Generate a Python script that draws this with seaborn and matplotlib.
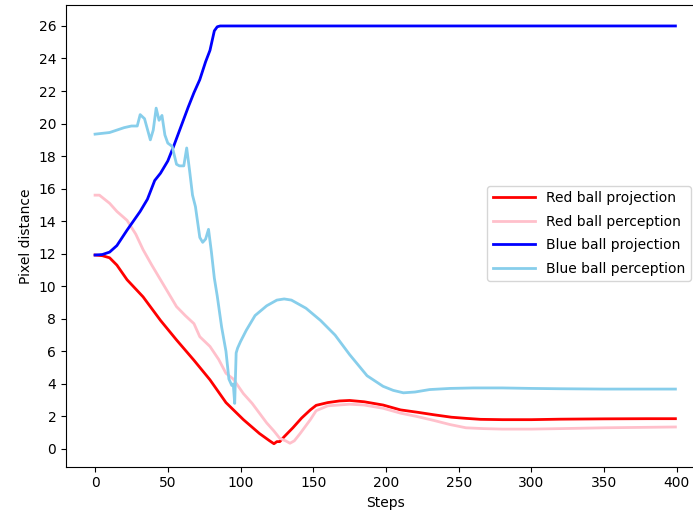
import matplotlib
matplotlib.use("Agg")
import matplotlib.pyplot as plt
import seaborn as sns
import pandas as pd

red_proj_steps = [0, 5, 10, 15, 22, 33, 45, 56, 68, 79, 90, 102, 113, 120, 123, 125, 127, 130, 136, 142, 148,
                  152, 160, 168, 175, 185, 198, 210, 222, 233, 245, 255, 265, 280, 300, 320, 350, 380, 399]
red_proj_vals = [11.92, 11.88, 11.75, 11.3, 10.4, 9.35, 7.9, 6.7, 5.45, 4.25, 2.85, 1.8, 0.95, 0.5, 0.32, 0.45, 0.45,
                 0.75, 1.3, 1.9, 2.4, 2.68, 2.85, 2.95, 2.98, 2.9, 2.7, 2.4, 2.25, 2.1, 1.95, 1.88, 1.82, 1.8, 1.8,
                 1.83, 1.85, 1.86, 1.86]

red_perc_steps = [0, 3, 10, 15, 22, 28, 33, 39, 45, 56, 62, 68, 72, 79, 85, 90, 95, 102, 108, 113, 118, 123, 127,
                  131, 134, 137, 141, 148, 152, 160, 175, 185, 198, 210, 221, 233, 244, 255, 267, 280, 300, 320,
                  350, 380, 399]
red_perc_vals = [15.6, 15.6, 15.1, 14.6, 14.05, 13.2, 12.25, 11.3, 10.4, 8.75, 8.2, 7.7, 6.9, 6.3, 5.5, 4.65, 4.3,
                 3.4, 2.8, 2.2, 1.6, 1.1, 0.65, 0.5, 0.35, 0.5, 0.95, 1.8, 2.35, 2.65, 2.75, 2.7, 2.5, 2.2, 2.0,
                 1.75, 1.5, 1.3, 1.25, 1.22, 1.22, 1.25, 1.3, 1.33, 1.35]

blue_proj_steps = [0, 5, 10, 15, 22, 31, 36, 41, 45, 50, 54, 59, 64, 68, 72, 76, 79, 82, 84, 86, 100, 200, 300, 399]
blue_proj_vals = [11.92, 11.95, 12.1, 12.5, 13.45, 14.6, 15.35, 16.5, 16.95, 17.7, 18.6, 19.8, 21.0, 21.9, 22.7,
                  23.8, 24.5, 25.7, 25.95, 26.0, 26.0, 26.0, 26.0, 26.0]

blue_perc_steps = [0, 5, 10, 15, 20, 25, 29, 31, 34, 38, 40, 42, 44, 46, 48, 50, 53, 56, 58, 61, 63, 65, 67, 69,
                   72, 74, 76, 78, 80, 82, 84, 87, 90, 92, 94, 95, 96, 97, 98, 100, 104, 110, 118, 125, 130, 135,
                   145, 155, 165, 175, 187, 198, 205, 212, 220, 230, 244, 260, 280, 300, 320, 350, 380, 399]
blue_perc_vals = [19.35, 19.4, 19.45, 19.6, 19.75, 19.85, 19.85, 20.55, 20.3, 19.0, 19.6, 20.95, 20.2, 20.5, 19.3,
                  18.8, 18.6, 17.5, 17.4, 17.4, 18.5, 17.1, 15.6, 14.9, 13.0, 12.7, 12.9, 13.5, 12.1, 10.5, 9.4,
                  7.5, 6.0, 4.3, 3.9, 4.0, 2.8, 5.9, 6.2, 6.6, 7.3, 8.2, 8.8, 9.15, 9.22, 9.15, 8.65, 7.9, 7.0,
                  5.8, 4.5, 3.85, 3.6, 3.45, 3.5, 3.65, 3.72, 3.75, 3.75, 3.72, 3.7, 3.68, 3.68, 3.68]

series_names = ["Red ball projection", "Red ball perception", "Blue ball projection", "Blue ball perception"]
series_colors = ["red", "pink", "blue", "skyblue"]

frames = []
for name, st, vals in zip(series_names,
                          [red_proj_steps, red_perc_steps, blue_proj_steps, blue_perc_steps],
                          [red_proj_vals, red_perc_vals, blue_proj_vals, blue_perc_vals]):
    frames.append(pd.DataFrame({"Steps": st, "Pixel distance": vals, "series": name}))
df = pd.concat(frames, ignore_index=True)

fig = plt.figure(figsize=(6.93, 5.13), dpi=100)
ax = fig.add_axes([0.0952, 0.0903, 0.9235, 0.900])

sns.lineplot(data=df, x="Steps", y="Pixel distance", hue="series", hue_order=series_names,
             palette=dict(zip(series_names, series_colors)), linewidth=2, ax=ax, estimator=None, sort=False)

ax.set_xlim(-20, 420)
ax.set_ylim(-1.09, 27.29)
ax.set_xticks(range(0, 401, 50))
ax.set_yticks(range(0, 27, 2))
ax.set_xlabel("Steps")
ax.set_ylabel("Pixel distance")

handles, labels = ax.get_legend_handles_labels()
ax.legend(handles, labels, loc="center right", bbox_to_anchor=(0.976, 0.505), borderaxespad=0, title=None,
          handlelength=3.0, labelspacing=0.68)

fig.savefig("out.png", dpi=100)
